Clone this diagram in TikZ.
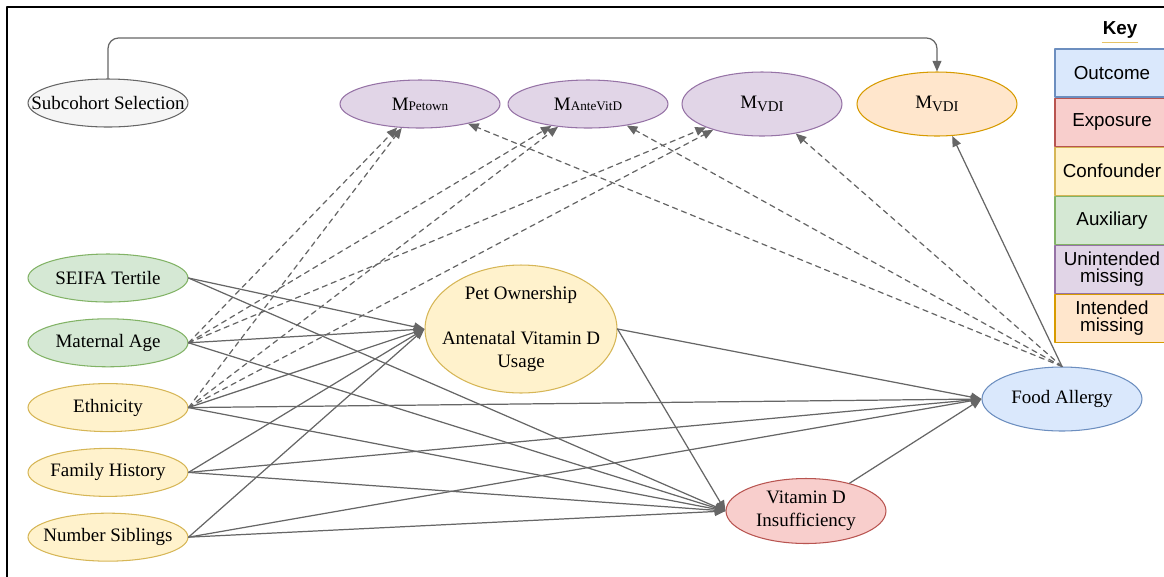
\documentclass[tikz,border=0pt]{standalone}
\usepackage{fontspec}
\setmainfont{Liberation Serif}
\setsansfont{Liberation Sans}
\usetikzlibrary{arrows.meta,shapes.geometric,positioning}
\definecolor{selfill}{HTML}{F5F5F5}\definecolor{selline}{HTML}{666666}
\definecolor{auxfill}{HTML}{D5E8D4}\definecolor{auxline}{HTML}{82B366}
\definecolor{conffill}{HTML}{FFF2CC}\definecolor{confline}{HTML}{D6B656}
\definecolor{expofill}{HTML}{F8CECC}\definecolor{expoline}{HTML}{B85450}
\definecolor{outfill}{HTML}{DAE8FC}\definecolor{outline}{HTML}{6C8EBF}
\definecolor{umfill}{HTML}{E1D5E7}\definecolor{umline}{HTML}{9673A6}
\definecolor{imfill}{HTML}{FFE6CC}\definecolor{imline}{HTML}{D79B00}
\definecolor{linegray}{HTML}{666666}
\newcommand{\smallM}[1]{M{\fontsize{7.5}{9}\selectfont #1}}
\newcommand{\subM}[1]{M\raisebox{-0.35ex}{\fontsize{8.5}{10}\selectfont #1}}

\begin{document}
\begin{tikzpicture}[x=0.02cm,y=-0.02cm,line cap=round,line join=round,
  >={Triangle[length=6pt,width=5pt]},
  var/.style={ellipse,draw,line width=0.6pt,inner xsep=-0.6cm,inner ysep=0pt,minimum width=3.2cm,minimum height=0.96cm,align=center,font=\fontsize{10.8}{13}\selectfont},
  keybox/.style={rectangle,draw,line width=0.6pt,inner sep=0pt,minimum width=2.28cm,minimum height=0.96cm,align=center,font=\sffamily\fontsize{10.7}{12}\selectfont},
  sel/.style={fill=selfill,draw=selline},
  aux/.style={fill=auxfill,draw=auxline},
  conf/.style={fill=conffill,draw=confline},
  expo/.style={fill=expofill,draw=expoline},
  outc/.style={fill=outfill,draw=outline},
  unmiss/.style={fill=umfill,draw=umline},
  inmiss/.style={fill=imfill,draw=imline},
  edge/.style={->,draw=linegray,line width=0.7pt},
  dedge/.style={edge,dash pattern=on 3pt off 2.5pt}]
\useasboundingbox (0,0) rectangle (1164,576);
\draw[line width=1.2pt] (7,590) -- (7,7) -- (1175,7);

% missingness indicators
\node[var,sel] (subco) at (108,103) {Subcohort Selection};
\node[var,unmiss] (mpet) at (420,104) {\smallM{Petown}};
\node[var,unmiss] (mante) at (588,104) {\smallM{AnteVitD}};
\node[var,unmiss,minimum height=1.28cm] (mvdi) at (762,104) {\subM{VDI}};
\node[var,inmiss,minimum height=1.28cm] (mvdio) at (937,104) {\subM{VDI}};

% covariates
\node[var,aux] (seifa) at (108,278) {SEIFA Tertile};
\node[var,aux,below=0.315cm of seifa] (matage) {Maternal Age};
\node[var,conf,below=0.315cm of matage] (ethn) {Ethnicity};
\node[var,conf,below=0.315cm of ethn] (famhist) {Family History};
\node[var,conf,below=0.315cm of famhist] (nsib) {Number Siblings};

\node[var,conf,minimum width=3.84cm,minimum height=2.56cm] (pet) at (521,329) {Pet Ownership\\[13pt]Antenatal Vitamin D\\Usage};
\node[var,expo,minimum height=1.3cm] (vdi) at (806,511) {Vitamin D\\Insufficiency};
\node[var,outc,minimum height=1.28cm] (fa) at (1062,399) {Food Allergy};

% key
\node[inner sep=0pt,font=\sffamily\bfseries\fontsize{10.7}{12}\selectfont] (keyttl) at (1120,30) {Key};
\draw[imline!60,line width=0.6pt] ([yshift=-2pt]keyttl.south west) -- ([yshift=-2pt]keyttl.south east);
\node[keybox,outc] (kout) at (1112,73) {Outcome};
\node[keybox,expo,below=0pt of kout] (kexp) {Exposure};
\node[keybox,conf,below=0pt of kexp] (kconf) {Confounder};
\node[keybox,aux,below=0pt of kconf] (kaux) {Auxiliary};
\node[keybox,unmiss,below=0pt of kaux] (kum) {Unintended\\[-2pt]missing};
\node[keybox,inmiss,below=0pt of kum] (kim) {Intended\\[-2pt]missing};

% selection
\coordinate (toprun) at (0,38);
\draw[edge,rounded corners=6pt] (subco.north) |- (mvdio.north |- toprun) -- (mvdio.north);

% causal paths
\draw[edge] (seifa.east) -- (pet.west);
\draw[edge] (seifa.east) -- (vdi.west);
\draw[edge] (matage.east) -- (pet.west);
\draw[edge] (matage.east) -- (vdi.west);
\draw[edge] (ethn.east) -- (pet.west);
\draw[edge] (ethn.east) -- (fa.west);
\draw[edge] (ethn.east) -- (vdi.west);
\draw[edge] (famhist.east) -- (pet.west);
\draw[edge] (famhist.east) -- (fa.west);
\draw[edge] (famhist.east) -- (vdi.west);
\draw[edge] (nsib.east) -- (pet.west);
\draw[edge] (nsib.east) -- (fa.west);
\draw[edge] (nsib.east) -- (vdi.west);
\draw[edge] (pet.east) -- (fa.west);
\draw[edge] (pet.east) -- (vdi.west);
\draw[edge] (vdi) -- (fa.west);
\draw[edge] (fa.north) -- (mvdio);

% missingness paths
\draw[dedge] (matage.east) -- (mpet);
\draw[dedge] (matage.east) -- (mante);
\draw[dedge] (matage.east) -- (mvdi);
\draw[dedge] (ethn.east) -- (mpet);
\draw[dedge] (ethn.east) -- (mante);
\draw[dedge] (ethn.east) -- (mvdi);
\draw[dedge] (fa.north) -- (mpet);
\draw[dedge] (fa.north) -- (mante);
\draw[dedge] (fa.north) -- (mvdi);
\end{tikzpicture}
\end{document}
